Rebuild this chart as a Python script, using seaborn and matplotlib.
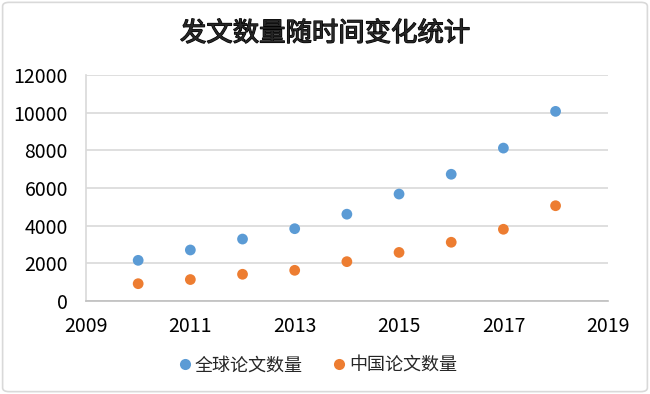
import matplotlib
matplotlib.use("Agg")
import matplotlib.pyplot as plt
import matplotlib.patheffects as pe
import seaborn as sns
import pandas as pd
from matplotlib.patches import FancyBboxPatch
from matplotlib.lines import Line2D

years = [2010, 2011, 2012, 2013, 2014, 2015, 2016, 2017, 2018]
global_counts = [2160, 2710, 3290, 3840, 4610, 5680, 6730, 8120, 10070]
china_counts = [920, 1140, 1420, 1630, 2090, 2580, 3120, 3810, 5060]
series_names = ["全球论文数量", "中国论文数量"]
colors = ["#5B9BD5", "#ED7D31"]
title = "发文数量随时间变化统计"

sns.set_theme(style="white")
plt.rcParams['font.family'] = ['Noto Sans CJK SC', 'DejaVu Sans']

df = pd.DataFrame({
    "year": years * 2,
    "count": global_counts + china_counts,
    "series": [series_names[0]] * len(years) + [series_names[1]] * len(years),
})

fig = plt.figure(figsize=(6.5, 3.94), dpi=100)
ax = fig.add_axes([0.1323, 0.236, 0.8027, 0.5736])

sns.scatterplot(data=df, x="year", y="count", hue="series", palette=colors,
                s=60, edgecolor="none", ax=ax, legend=False, zorder=3)

ax.set_xlim(2009, 2019)
ax.set_ylim(0, 12000)
ax.set_xticks(range(2009, 2020, 2))
ax.set_yticks(range(0, 12001, 2000))
ax.set_xlabel("")
ax.set_ylabel("")
ax.yaxis.grid(True, color="#D9D9D9", linewidth=1.2)
ax.xaxis.grid(False)
ax.set_axisbelow(True)
for side in ["top", "right"]:
    ax.spines[side].set_visible(False)
ax.spines["left"].set_color("#D9D9D9")
ax.spines["left"].set_linewidth(1.2)
ax.spines["bottom"].set_color("#BFBFBF")
ax.spines["bottom"].set_linewidth(1.2)
ax.tick_params(axis="both", length=0, labelsize=14, colors="#000000")
ax.tick_params(axis="y", pad=13)
ax.tick_params(axis="x", pad=11)

fig.text(0.5, 0.915, title, ha="center", va="center", fontsize=19,
         path_effects=[pe.withStroke(linewidth=0.9, foreground="black")])

handles = [Line2D([0], [0], marker="o", linestyle="", markersize=8,
                  markerfacecolor=c, markeredgecolor="none") for c in colors]
fig.legend(handles, series_names, loc="center", bbox_to_anchor=(0.487, 0.073),
           ncol=2, frameon=False, fontsize=13, handletextpad=0.05,
           columnspacing=1.5, handlelength=1.0)

border = FancyBboxPatch((0.004, 0.006), 0.992, 0.988,
                        boxstyle="round,pad=0,rounding_size=0.01",
                        transform=fig.transFigure, fill=False,
                        edgecolor="#D9D9D9", linewidth=1.2)
fig.patches.append(border)

fig.savefig("out.png", dpi=100)
